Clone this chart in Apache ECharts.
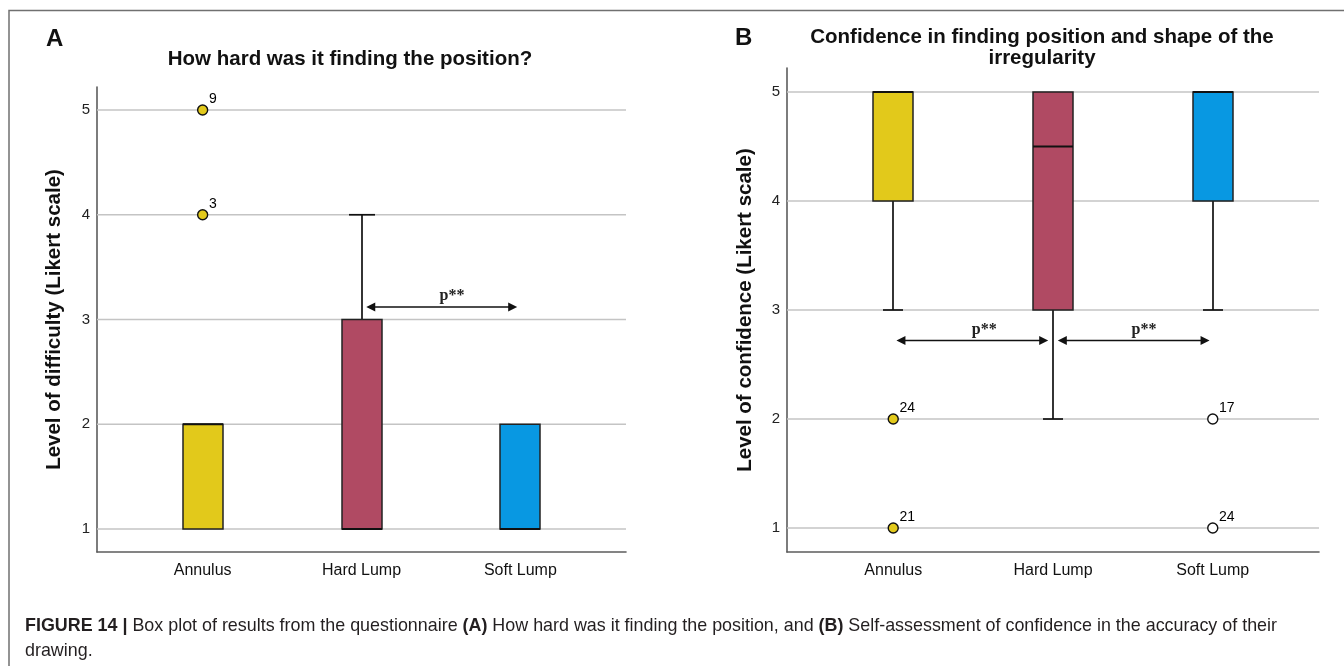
<!DOCTYPE html>
<html><head><meta charset="utf-8">
<script src="https://cdn.jsdelivr.net/npm/echarts@6/dist/echarts.min.js"></script>
<style>html,body{margin:0;padding:0;background:#fff}#c{width:1344px;height:666px}</style>
</head><body><div id="c"></div>
<script>
// ---------------- data ----------------
const categories = ['Annulus', 'Hard Lump', 'Soft Lump'];
const yTicks = [1, 2, 3, 4, 5];
// [low whisker, Q1, median, Q3, high whisker]
const boxesA = [[1, 1, 2, 2, 2], [1, 1, 1, 3, 4], [1, 1, 1, 2, 2]];
const boxesB = [[3, 4, 5, 5, 5], [2, 3, 4.5, 5, 5], [3, 4, 5, 5, 5]];
// [category index, value, case label]
const outliersA = [[0, 5, '9'], [0, 4, '3']];
const outliersB = [[0, 2, '24'], [0, 1, '21'], [2, 2, '17'], [2, 1, '24']];
// [from, to, level, text position, text]
const signifA = [[1.03, 1.98, 3.12, 1.57, 'p**']];
const signifB = [[0.02, 0.97, 2.72, 0.57, 'p**'], [1.03, 1.98, 2.72, 1.57, 'p**']];
const titleA = 'How hard was it finding the position?';
const titleB = 'Confidence in finding position and shape of the\nirregularity';
const yNameA = 'Level of difficulty (Likert scale)';
const yNameB = 'Level of confidence (Likert scale)';
const panelLabels = ['A', 'B'];
const captionLine1 = '{b|FIGURE 14 | }{n|Box plot of results from the questionnaire }{b|(A)}{n| How hard was it finding the position, and }{b|(B)}{n| Self-assessment of confidence in the accuracy of their}';
const captionLine2 = '{n|drawing.}';

// ---------------- styles ----------------
const boxColors = ['#E2C91B', '#B04A63', '#0898E2'];
const outlierFill = ['#E2C91B', '#B04A63', '#FFFFFF'];
const SANS = '"Liberation Sans", Arial, Helvetica, sans-serif';
const INK = '#111111';

const chart = echarts.init(document.getElementById('c'), null, {renderer: 'canvas'});

function boxRenderer(capHalf) {
  return function (params, api) {
    const x = api.value(0);
    const low = api.value(1), q1 = api.value(2), med = api.value(3), q3 = api.value(4), high = api.value(5);
    const cx = Math.round(api.coord([x, med])[0]);
    const yL = api.coord([x, low])[1], yQ1 = api.coord([x, q1])[1], yM = api.coord([x, med])[1];
    const yQ3 = api.coord([x, q3])[1], yH = api.coord([x, high])[1];
    const half = 20;
    const ls = {stroke: INK, lineWidth: 1.7};
    const ch = [];
    if (low < q1) {
      ch.push({type: 'line', shape: {x1: cx, y1: yQ1, x2: cx, y2: yL}, style: ls});
      ch.push({type: 'line', shape: {x1: cx - capHalf, y1: yL, x2: cx + capHalf, y2: yL}, style: ls});
    }
    if (high > q3) {
      ch.push({type: 'line', shape: {x1: cx, y1: yQ3, x2: cx, y2: yH}, style: ls});
      ch.push({type: 'line', shape: {x1: cx - capHalf, y1: yH, x2: cx + capHalf, y2: yH}, style: ls});
    }
    ch.push({type: 'rect', shape: {x: cx - half, y: yQ3, width: 2 * half, height: yQ1 - yQ3},
      style: {fill: boxColors[params.dataIndex], stroke: '#222', lineWidth: 1.5}});
    ch.push({type: 'line', shape: {x1: cx - half, y1: yM, x2: cx + half, y2: yM}, style: {stroke: INK, lineWidth: 2}});
    return {type: 'group', children: ch};
  };
}

function gridLineRenderer(params, api) {
  const cs = params.coordSys;
  const y = api.coord([0, api.value(0)])[1];
  return {type: 'line', shape: {x1: cs.x, y1: y, x2: cs.x + cs.width, y2: y},
    style: {stroke: '#c4c4c4', lineWidth: 1.6}};
}

function signifRenderer(list) {
  return function (params, api) {
    const y = api.value(2);
    const a = api.coord([api.value(0), y]);
    const b = api.coord([api.value(1), y]);
    const t = api.coord([api.value(3), y]);
    const L = 9, H = 4.5;
    return {type: 'group', children: [
      {type: 'line', shape: {x1: a[0] + 4, y1: a[1], x2: b[0] - 4, y2: b[1]}, style: {stroke: INK, lineWidth: 1.6}},
      {type: 'polygon', shape: {points: [[a[0], a[1]], [a[0] + L, a[1] - H], [a[0] + L, a[1] + H]]}, style: {fill: INK}},
      {type: 'polygon', shape: {points: [[b[0], b[1]], [b[0] - L, b[1] - H], [b[0] - L, b[1] + H]]}, style: {fill: INK}},
      {type: 'text', style: {text: list[params.dataIndex][4], x: t[0], y: t[1] - 11, align: 'center', verticalAlign: 'middle',
        font: 'bold 16px "Liberation Serif", "Times New Roman", serif', fill: '#222'}}
    ]};
  };
}

function makeAxes(gi, yName, nameGap) {
  const xAxis = {
    gridIndex: gi, type: 'value', min: -0.665, max: 2.665,
    axisLine: {show: true, onZero: false, lineStyle: {color: '#5c5c5c', width: 1.6}},
    axisTick: {show: false}, splitLine: {show: false},
    axisLabel: {customValues: categories.map((c, i) => i), formatter: v => categories[Math.round(v)] || '',
      color: '#111', fontSize: 16, fontFamily: SANS, margin: 11}
  };
  const yAxis = {
    gridIndex: gi, type: 'value', min: 0.78, max: 5.22,
    axisLine: {show: true, onZero: false, lineStyle: {color: '#5c5c5c', width: 1.6}},
    axisTick: {show: false}, splitLine: {show: false},
    axisLabel: {customValues: yTicks, color: '#222', fontSize: 15, fontFamily: SANS, margin: 7},
    name: yName, nameLocation: 'middle', nameGap: nameGap,
    nameTextStyle: {fontSize: 20.5, fontWeight: 'bold', color: '#111', fontFamily: SANS}
  };
  return [xAxis, yAxis];
}

function panelSeries(gi, boxes, outliers, signif, capHalf) {
  return [
    {type: 'custom', xAxisIndex: gi, yAxisIndex: gi, z: 1, silent: true,
      renderItem: gridLineRenderer, encode: {y: 0},
      data: yTicks.map(v => [v])},
    {type: 'custom', xAxisIndex: gi, yAxisIndex: gi, z: 3, silent: true,
      renderItem: boxRenderer(capHalf),
      encode: {x: 0, y: [1, 2, 3, 4, 5]},
      data: boxes.map((b, i) => [i].concat(b))},
    {type: 'scatter', xAxisIndex: gi, yAxisIndex: gi, z: 4, silent: true,
      symbol: 'circle', symbolSize: 10,
      data: outliers.map(o => ({name: o[2], value: [o[0], o[1]],
        itemStyle: {color: outlierFill[o[0]], borderColor: INK, borderWidth: 1.4, opacity: 1}})),
      label: {show: true, formatter: '{b}', position: [12, -5], align: 'left', verticalAlign: 'middle',
        color: '#000', fontSize: 14, fontFamily: SANS}},
    {type: 'custom', xAxisIndex: gi, yAxisIndex: gi, z: 5, silent: true,
      renderItem: signifRenderer(signif),
      encode: {x: [0, 1, 3], y: 2},
      data: signif.map(s => [s[0], s[1], s[2], s[3]])}
  ];
}

const axA = makeAxes(0, yNameA, 32);
const axB = makeAxes(1, yNameB, 31);

const option = {
  animation: false,
  backgroundColor: '#fff',
  grid: [
    {left: 97, right: 718, top: 87, bottom: 114},
    {left: 787, right: 25, top: 68, bottom: 114}
  ],
  xAxis: [axA[0], axB[0]],
  yAxis: [axA[1], axB[1]],
  series: [].concat(
    panelSeries(0, boxesA, outliersA, signifA, 13),
    panelSeries(1, boxesB, outliersB, signifB, 10)
  ),
  graphic: [
    {type: 'rect', silent: true, shape: {x: 9, y: 10.5, width: 1400, height: 700},
      style: {fill: 'none', stroke: '#707070', lineWidth: 1.5}},
    {type: 'text', silent: true, style: {text: panelLabels[0], x: 46, y: 39, verticalAlign: 'middle',
      font: 'bold 24px ' + SANS, fill: '#111'}},
    {type: 'text', silent: true, style: {text: panelLabels[1], x: 735, y: 38, verticalAlign: 'middle',
      font: 'bold 24px ' + SANS, fill: '#111'}},
    {type: 'text', silent: true, style: {text: titleA, x: 350, y: 59, align: 'center', verticalAlign: 'middle',
      font: 'bold 20.5px ' + SANS, fill: '#111'}},
    {type: 'text', silent: true, style: {text: titleB, x: 1042, y: 48, align: 'center', verticalAlign: 'middle',
      font: 'bold 20.5px ' + SANS, lineHeight: 21, fill: '#111'}},
    {type: 'text', silent: true, style: {text: captionLine1, x: 25, y: 626, verticalAlign: 'middle',
      rich: {
        b: {fontWeight: 'bold', fontSize: 17.9, fontFamily: SANS, fill: '#231f20'},
        n: {fontSize: 17.9, fontFamily: SANS, fill: '#231f20'}
      }}},
    {type: 'text', silent: true, style: {text: captionLine2, x: 25, y: 651, verticalAlign: 'middle',
      rich: {n: {fontSize: 17.9, fontFamily: SANS, fill: '#231f20'}}}}
  ]
};
chart.setOption(option);
</script>
</body></html>
